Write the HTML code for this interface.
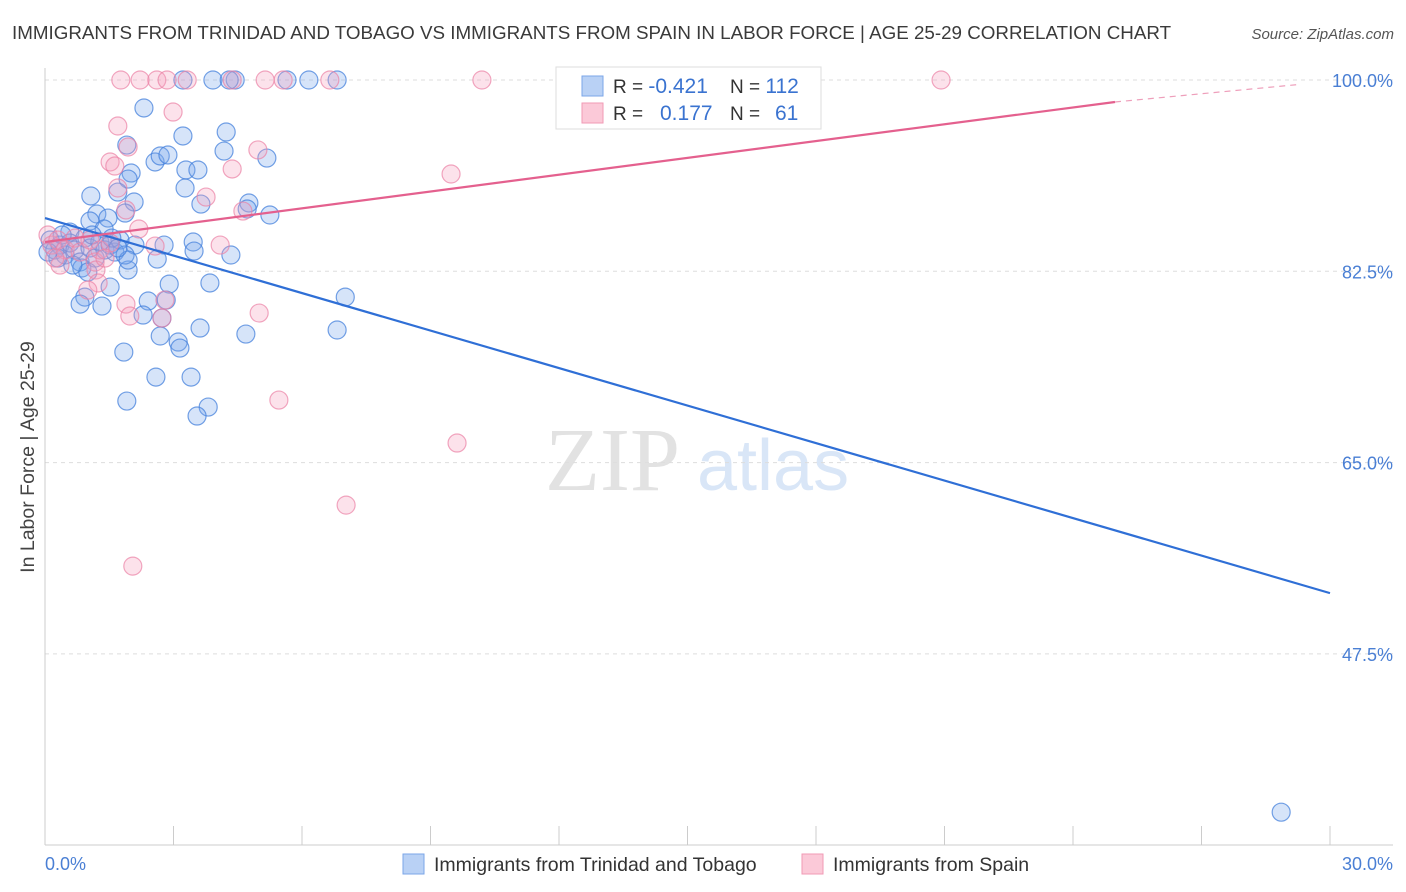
<!DOCTYPE html>
<html><head><meta charset="utf-8"><style>
body{margin:0;background:#fff;font-family:"Liberation Sans",sans-serif;}
svg{display:block}
</style></head><body>
<svg id="chart" width="1406" height="892">
<text x="12" y="39" font-size="18.8" fill="#3a3a3a">IMMIGRANTS FROM TRINIDAD AND TOBAGO VS IMMIGRANTS FROM SPAIN IN LABOR FORCE | AGE 25-29 CORRELATION CHART</text>
<text x="1394" y="39" font-size="15" font-style="italic" fill="#555" text-anchor="end">Source: ZipAtlas.com</text>
<text transform="translate(34,457) rotate(-90)" font-size="19.5" fill="#444" text-anchor="middle">In Labor Force | Age 25-29</text>
<g>
<text x="545" y="490" font-family="Liberation Serif,serif" font-size="90" fill="#e2e2e2">ZIP</text>
<text x="697" y="490" font-size="72" fill="#d9e6f7">atlas</text>
</g>
<g id="grid"></g><g id="axes"></g><g id="pts"></g><g id="lines"></g>
<g>
<rect x="556" y="67" width="265" height="62" fill="#fff" stroke="#ddd"/>
<rect x="582" y="76" width="21" height="20" fill="#b9d1f5" stroke="#7ba6e8"/>
<rect x="582" y="103" width="21" height="20" fill="#fbc9d8" stroke="#f09ab5"/>
<text x="613" y="93" font-size="19" fill="#333">R = <tspan fill="#3a73d0" font-size="21">-0.421</tspan></text>
<text x="730" y="93" font-size="19" fill="#333">N = <tspan fill="#3a73d0" font-size="21">112</tspan></text>
<text x="613" y="120" font-size="19" fill="#333">R = </text><text x="660" y="120" font-size="21" fill="#3a73d0">0.177</text>
<text x="730" y="120" font-size="19" fill="#333">N = </text><text x="775" y="120" font-size="21" fill="#3a73d0">61</text>
</g>
<g>
<rect x="403" y="854" width="21" height="20" fill="#b9d1f5" stroke="#7ba6e8"/>
<text x="434" y="871" font-size="19.5" fill="#333">Immigrants from Trinidad and Tobago</text>
<rect x="802" y="854" width="21" height="20" fill="#fbc9d8" stroke="#f09ab5"/>
<text x="833" y="871" font-size="19.5" fill="#333">Immigrants from Spain</text>
</g>
</svg>
<script>
const yTicks=[100,82.5,65,47.5];
const yTickLabels=["100.0%","82.5%","65.0%","47.5%"];
const xTickLabels=["0.0%","30.0%"];
const blueX=[2.31,1.91,4.23,3.22,2.57,2.69,2.87,3.29,3.57,4.18,5.18,2.01,1.94,3.27,1.70,1.07,2.08,3.64,4.76,4.72,5.25,1.21,1.05,1.87,1.47,1.38,0.58,2.10,2.78,3.46,3.48,4.34,2.62,2.90,3.85,1.94,1.52,0.93,0.82,1.33,2.41,2.83,7.01,2.29,2.73,2.69,3.11,3.15,3.62,4.69,6.82,1.84,2.59,3.41,1.91,3.81,3.55,28.86,3.92,4.44,5.65,6.16,6.82,3.22,4.30,0.12,0.23,0.35,0.47,0.58,0.70,0.82,0.93,1.05,1.17,1.28,1.40,1.52,1.63,1.75,1.87,0.86,1.00,0.65,0.30,0.07,0.40,1.10,1.56,1.94,1.70];
const blueY=[97.44,94.05,95.24,94.88,92.50,93.05,93.14,91.77,91.77,93.50,92.86,91.49,90.94,90.12,89.75,89.39,88.84,88.65,88.75,88.20,87.65,87.74,87.10,87.83,87.37,86.37,86.09,84.90,84.90,85.18,84.35,83.99,83.62,81.33,81.43,82.62,81.06,80.14,79.50,79.32,79.78,79.87,80.14,78.50,78.22,76.58,76.03,75.48,77.31,76.76,77.13,75.11,72.82,72.82,70.63,70.08,69.26,33.02,100,100,100,100,100,100,100,85.36,84.45,84.90,83.99,85.09,84.45,83.35,85.54,84.63,83.71,85.18,84.45,84.90,84.26,85.36,83.99,82.80,82.43,83.07,83.71,84.26,85.82,85.82,85.54,83.53,84.63];
const pinkX=[1.77,2.22,2.61,2.85,3.32,4.37,5.14,5.56,6.65,10.20,20.92,2.99,1.70,1.94,1.52,1.63,4.97,4.37,9.48,1.70,3.76,1.89,4.62,2.19,2.57,4.09,2.80,1.89,1.98,2.73,5.00,5.46,9.62,7.03,2.05,0.07,0.16,0.30,0.47,0.35,0.70,0.82,1.05,1.17,1.28,1.52,1.19,1.24,1.00,1.40,0.23];
const pinkY=[100,100,100,100,100,100,100,100,100,100,100,97.07,95.79,93.87,92.50,92.13,93.60,91.86,91.40,90.12,89.29,88.11,88.01,86.37,84.81,84.90,79.87,79.50,78.41,78.22,78.68,70.72,66.79,61.11,55.53,85.82,84.90,85.36,84.45,83.07,85.54,84.26,85.36,83.35,84.45,85.09,82.62,81.43,80.78,83.71,83.71];
const blueTrend=[87.37,53.06];
const pinkTrend=[85.18,97.99,99.6];
const pinkSolidEnd=24.98;
const NS="http://www.w3.org/2000/svg";
const sx=v=>45+v/30*1285;
const sy=v=>80+(100-v)/17.5*191.3;
function mk(tag,attrs,parent){const e=document.createElementNS(NS,tag);for(const k in attrs)e.setAttribute(k,attrs[k]);parent.appendChild(e);return e;}
const grid=document.getElementById('grid'),axes=document.getElementById('axes'),pts=document.getElementById('pts'),lines=document.getElementById('lines');
yTicks.forEach((t,i)=>{
 const l=mk('line',{x1:45,x2:1393,y1:sy(t),y2:sy(t),stroke:'#ddd','stroke-dasharray':'4,4'},grid);
 
 
 const tx=mk('text',{x:1393,y:sy(t)+7,'font-size':18,fill:'#4a7fd4','text-anchor':'end'},axes);
 tx.textContent=yTickLabels[i];
 
 
});
const ax=mk('line',{x1:45,x2:1393,y1:845,y2:845,stroke:'#ccc'},axes);


const ay=mk('line',{x1:45,x2:45,y1:68,y2:845,stroke:'#ccc'},axes);


for(let i=0;i<=10;i++){
 const t=mk('line',{x1:sx(i*3),x2:sx(i*3),y1:826,y2:845,stroke:'#ccc'},axes);
 
 
}
const xl0=mk('text',{x:45,y:870,'font-size':18,fill:'#4a7fd4'},axes);xl0.textContent=xTickLabels[0];


const xl1=mk('text',{x:1393,y:870,'font-size':18,fill:'#4a7fd4','text-anchor':'end'},axes);xl1.textContent=xTickLabels[1];


blueX.forEach((x,i)=>{
 const c=mk('circle',{cx:sx(x),cy:sy(blueY[i]),r:9,fill:'rgba(120,165,235,0.3)',stroke:'rgba(70,130,220,0.75)','stroke-width':1.2},pts);
 
 
});
pinkX.forEach((x,i)=>{
 const c=mk('circle',{cx:sx(x),cy:sy(pinkY[i]),r:9,fill:'rgba(245,160,190,0.3)',stroke:'rgba(235,130,165,0.7)','stroke-width':1.2},pts);
 
 
});
const bl=mk('line',{x1:sx(0),y1:sy(blueTrend[0]),x2:sx(30),y2:sy(blueTrend[1]),stroke:'#2f6fd6','stroke-width':2.2},lines);


const pl=mk('line',{x1:sx(0),y1:sy(pinkTrend[0]),x2:sx(pinkSolidEnd),y2:sy(pinkTrend[1]),stroke:'#e4608e','stroke-width':2.2},lines);


const pd=mk('line',{x1:sx(pinkSolidEnd),y1:sy(pinkTrend[1]),x2:sx(29.3),y2:sy(pinkTrend[2]),stroke:'#e4608e','stroke-width':1.2,'stroke-dasharray':'6,5',opacity:0.6},lines);


</script>
</body></html>
